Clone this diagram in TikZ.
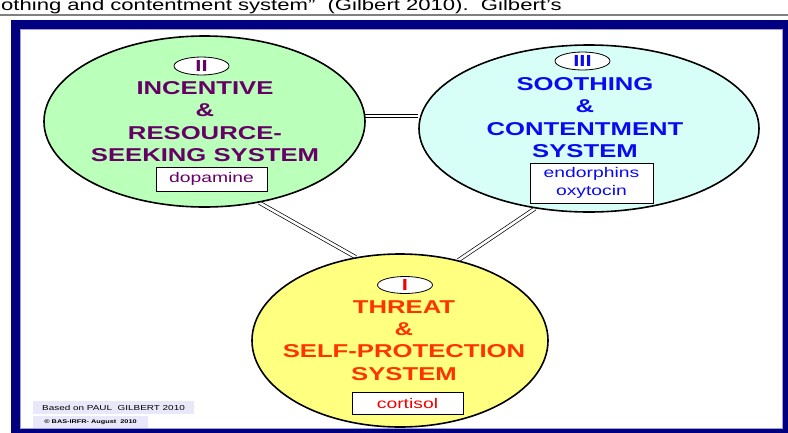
\documentclass[tikz,border=0pt]{standalone}
\usepackage{fontspec}
\setmainfont{Liberation Sans}
\newfontfamily\wide[FakeStretch=1.38]{Liberation Sans}
\usetikzlibrary{shapes.geometric,backgrounds}
\definecolor{navyc}{RGB}{0,0,128}
\definecolor{lavline}{RGB}{160,160,215}
\definecolor{lavbox}{RGB}{232,232,250}
\definecolor{purp}{RGB}{102,0,102}
\definecolor{blu}{RGB}{10,10,240}
\definecolor{redt}{RGB}{255,51,0}
\definecolor{redr}{RGB}{240,0,0}
\definecolor{gfill}{RGB}{186,255,186}
\definecolor{cfill}{RGB}{216,255,247}
\definecolor{yfill}{RGB}{255,255,128}
\definecolor{grayl}{RGB}{128,128,128}
\begin{document}
\begin{tikzpicture}[x=1pt,y=-1pt,
  big/.style={ellipse, draw=black, line width=1.6pt, inner sep=0pt},
  roman/.style={ellipse, draw=black, fill=white, line width=0.8pt, minimum width=55pt, minimum height=18pt, inner sep=0pt, font=\wide\bfseries\fontsize{16}{16}\selectfont},
  title/.style={align=center, inner sep=0pt, font=\wide\bfseries\fontsize{18.6}{22.3}\selectfont},
  hbox/.style={draw=black, fill=white, line width=0.8pt, inner sep=0pt, align=center, font=\wide\fontsize{14}{18}\selectfont},
  foot/.style={fill=lavbox, inner sep=0pt, text=black},
  link/.style={draw=black, double=white, double distance=2.6pt, line width=0.7pt}
]
\useasboundingbox (0,0) rectangle (788,432);
\clip (0,0) rectangle (788,432);
% page text and rule
\node[anchor=base west, inner sep=0pt, font=\wide\fontsize{16}{16}\selectfont] (cap) at (1,10) {othing and contentment system”\ \ (Gilbert 2010).\ \ Gilbert’s};
\begin{scope}[on background layer]
\draw[grayl, line width=1.5pt] (0,15) -- (788,15);
\fill[navyc] (11,20) rectangle (792,436);
\fill[white] (20,29) rectangle (782,428);
\draw[lavline, line width=0.8pt] (20,29) rectangle (782,428);
\end{scope}
% systems
\node[big, fill=gfill, minimum width=321pt, minimum height=171pt] (g) at (204.5,121.5) {};
\node[big, fill=cfill, minimum width=340pt, minimum height=167pt] (b) at (589,128.5) {};
\node[big, fill=yfill, minimum width=296pt, minimum height=173pt] (y) at (400,340.5) {};
\node[roman, text=purp] (r2) at (201.5,66) {II};
\node[roman, text=blu] (r3) at (582.5,61) {III};
\node[roman, text=redr, minimum height=17pt] (r1) at (405,285) {I};
\node[title, text=purp] (tg) at (205,121.5) {INCENTIVE\\\&\\RESOURCE-\\SEEKING SYSTEM};
\node[title, text=blu] (tb) at (585,117.5) {SOOTHING\\\&\\CONTENTMENT\\SYSTEM};
\node[title, text=redt] (ty) at (404,340.5) {THREAT\\\&\\SELF-PROTECTION\\SYSTEM};
\node[hbox, text=purp, minimum width=111pt, minimum height=24pt] (hg) at (211.5,179) {dopamine};
\node[hbox, text=blu, minimum width=123pt, minimum height=40pt] (hb) at (591.5,183) {endorphins\\oxytocin};
\node[hbox, text=redr, minimum width=111pt, minimum height=22pt] (hy) at (407.5,403) {cortisol};
% footer
\node[foot, minimum width=161pt, minimum height=13pt, font=\wide\fontsize{7.2}{8}\selectfont] (f1) at (113.5,407.5) {Based on PAUL\ \ GILBERT 2010};
\node[foot, minimum width=115pt, minimum height=12pt, font=\wide\bfseries\fontsize{5.3}{6}\selectfont] (f2) at (90.5,422) {© BAS-IRFR- August\ \ 2010};
% links
\begin{scope}[on background layer]
\draw[link] (g.2) -- (g.2 -| b.west);
\draw[link] (g.-56.7) -- (y.118.6);
\draw[link] (b.-124.2) -- (y.54);
\end{scope}
\end{tikzpicture}
\end{document}
